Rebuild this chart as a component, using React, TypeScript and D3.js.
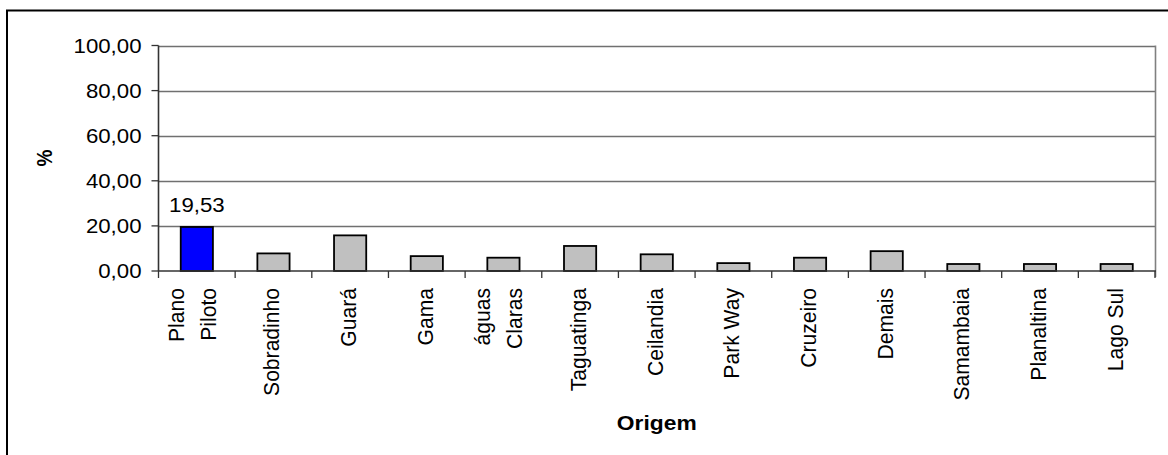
import React from "react";
import * as d3 from "d3";

const categories: string[] = [
  "Plano\nPiloto",
  "Sobradinho",
  "Guará",
  "Gama",
  "águas\nClaras",
  "Taguatinga",
  "Ceilandia",
  "Park Way",
  "Cruzeiro",
  "Demais",
  "Samambaia",
  "Planaltina",
  "Lago Sul",
];
const values: number[] = [19.53, 7.8, 15.8, 6.6, 5.9, 11.1, 7.4, 3.5, 5.9, 8.8, 3.1, 3.1, 3.1];
const barColors: string[] = ["#0000FF", "#C0C0C0", "#C0C0C0", "#C0C0C0", "#C0C0C0", "#C0C0C0", "#C0C0C0", "#C0C0C0", "#C0C0C0", "#C0C0C0", "#C0C0C0", "#C0C0C0", "#C0C0C0"];
const yTicks: number[] = [0, 20, 40, 60, 80, 100];
const dataLabels: (string | null)[] = ["19,53", null, null, null, null, null, null, null, null, null, null, null, null];
const yTitle = "%";
const xTitle = "Origem";

const W = 1168;
const H = 455;
const left = 158.5;
const right = 1155;
const top = 45.5;
const bottom = 271;
const FONT = "Arial, 'Liberation Sans', Helvetica, sans-serif";

const fmt = (v: number) => v.toFixed(2).replace(".", ",");

export default function App() {
  const x = d3.scaleBand<number>().domain(d3.range(categories.length)).range([left, right]).paddingInner(0).paddingOuter(0);
  const y = d3.scaleLinear().domain([0, 100]).range([bottom, top]);
  const bw = x.bandwidth() * 0.42;
  const stretch = 1.14;

  return (
    <svg width={W} height={H} style={{ position: "absolute", left: 0, top: 0, background: "#fff" }} fontFamily={FONT}>
      <rect x={0} y={0} width={W} height={H} fill="#fff" />
      <rect x={7} y={10.5} width={1300} height={600} fill="none" stroke="#000" strokeWidth={2} />
      {/* gridlines */}
      {yTicks.filter((t) => t > 0).map((t) => (
        <line key={"g" + t} x1={left} x2={right} y1={Math.round(y(t)) + 0.5} y2={Math.round(y(t)) + 0.5} stroke="#707070" strokeWidth={1.3} />
      ))}
      {/* plot area right border */}
      <line x1={right + 0.5} x2={right + 0.5} y1={y(100)} y2={bottom + 6} stroke="#808080" strokeWidth={1.6} />
      {/* bars */}
      {values.map((v, i) => {
        const cx = (x(i) as number) + x.bandwidth() / 2;
        return (
          <rect key={"b" + i} x={cx - bw / 2} y={y(v)} width={bw} height={bottom - y(v)} fill={barColors[i]} stroke="#000" strokeWidth={1.8} />
        );
      })}
      {/* y axis */}
      <line x1={left} x2={left} y1={y(100)} y2={bottom} stroke="#333" strokeWidth={1.6} />
      {yTicks.map((t) => (
        <g key={"yt" + t}>
          <line x1={left - 7} x2={left} y1={y(t)} y2={y(t)} stroke="#333" strokeWidth={1.3} />
          <text
            transform={`translate(${left - 17},${y(t) + 7}) scale(${stretch},1)`}
            textAnchor="end"
            fontSize={19.5}
            fill="#000"
          >
            {fmt(t)}
          </text>
        </g>
      ))}
      {/* x axis */}
      <line x1={left} x2={right + 1} y1={bottom} y2={bottom} stroke="#333" strokeWidth={1.6} />
      {d3.range(categories.length + 1).map((i) => {
        const xx = i < categories.length ? (x(i) as number) : right;
        return <line key={"xt" + i} x1={xx} x2={xx} y1={bottom} y2={bottom + 7} stroke="#333" strokeWidth={1.3} />;
      })}
      {categories.map((c, i) => {
        const cx = (x(i) as number) + x.bandwidth() / 2;
        const lines = c.split("\n");
        return lines.map((ln, j) => {
          const bx = lines.length === 1 ? cx + 6 : cx + 3 + (j - (lines.length - 1) / 2) * 32;
          return (
            <text key={"c" + i + "_" + j} transform={`translate(${bx},288) rotate(-90) scale(1.03,1.04)`} textAnchor="end" fontSize={20.5} fill="#000">
              {ln}
            </text>
          );
        });
      })}
      {/* data labels */}
      {dataLabels.map((l, i) =>
        l ? (
          <text
            key={"dl" + i}
            transform={`translate(${(x(i) as number) + x.bandwidth() / 2},${y(values[i]) - 15}) scale(${stretch},1)`}
            textAnchor="middle"
            fontSize={19.5}
            fill="#000"
          >
            {l}
          </text>
        ) : null
      )}
      {/* titles */}
      <text transform={`translate(52,158) rotate(-90) scale(1,${stretch})`} textAnchor="middle" fontSize={19} fontWeight="bold" fill="#000">
        {yTitle}
      </text>
      <text transform={`translate(${(left + right) / 2},430) scale(${stretch},1)`} textAnchor="middle" fontSize={20} fontWeight="bold" fill="#000">
        {xTitle}
      </text>
    </svg>
  );
}
